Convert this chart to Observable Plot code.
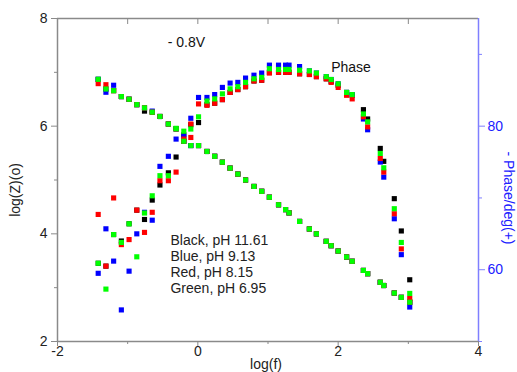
<!DOCTYPE html>
<html>
<head>
<meta charset="utf-8">
<script src="https://cdn.jsdelivr.net/npm/d3@7"></script>
<script src="https://cdn.jsdelivr.net/npm/@observablehq/plot@0.6"></script>
<style>
  html, body { margin: 0; padding: 0; background: #fff; }
  #chart svg { display: block; }
</style>
</head>
<body>
<div id="chart"></div>
<script>
// log(f) of each measured frequency
const logf = [-1.42, -1.31, -1.20, -1.09, -0.98, -0.87, -0.76, -0.65, -0.54, -0.42,
  -0.31, -0.20, -0.10, 0.01, 0.13, 0.24, 0.35, 0.46, 0.57, 0.68,
  0.80, 0.91, 1.02, 1.15, 1.25, 1.30, 1.45, 1.59, 1.69, 1.83,
  1.90, 2.00, 2.12, 2.20, 2.36, 2.42, 2.60, 2.65, 2.80, 2.90, 3.02];

// log|Z| per series
const magGreen = [6.87, 6.69, 6.66, 6.55, 6.50, 6.40, 6.34, 6.26, 6.18, 6.04,
  5.95, 5.72, 5.64, 5.64, 5.53, 5.44, 5.33, 5.22, 5.11, 5.00,
  4.88, 4.79, 4.68, 4.54, 4.45, 4.39, 4.23, 4.09, 4.00, 3.86,
  3.78, 3.68, 3.57, 3.49, 3.32, 3.26, 3.10, 3.04, 2.90, 2.82, 2.73];
const magRed = [6.79, 6.77, 6.66, 6.55, 6.50, 6.40, 6.34, 6.26, 6.18, 6.04,
  5.95, 5.72, 5.79, 5.64, 5.53, 5.44, 5.33, 5.22, 5.11, 5.00,
  4.88, 4.79, 4.68, 4.54, 4.45, 4.39, 4.23, 4.09, 4.00, 3.86,
  3.78, 3.68, 3.57, 3.49, 3.32, 3.26, 3.10, 3.04, 2.90, 2.82, 2.73];
const magBlue = [6.87, 6.63, 6.76, 6.55, 6.50, 6.40, 6.34, 6.28, 6.18, 6.04,
  5.95, 5.72, 5.64, 5.64, 5.53, 5.44, 5.33, 5.22, 5.11, 5.00,
  4.88, 4.79, 4.68, 4.54, 4.45, 4.39, 4.23, 4.09, 4.00, 3.86,
  3.78, 3.68, 3.57, 3.49, 3.32, 3.26, 3.10, 3.04, 2.90, 2.82, 2.73];
const magBlack = [6.87, 6.69, 6.66, 6.55, 6.50, 6.40, 6.28, 6.26, 6.18, 6.04,
  5.95, 5.72, 5.64, 5.64, 5.53, 5.44, 5.33, 5.22, 5.11, 5.00,
  4.88, 4.79, 4.68, 4.54, 4.45, 4.39, 4.23, 4.09, 4.00, 3.86,
  3.78, 3.68, 3.57, 3.49, 3.32, 3.26, 3.10, 3.04, 2.90, 2.82, 2.73];

// - phase (deg) per series
const phGreen = [60.9, 57.3, 64.9, 63.8, 66.4, 61.8, 67.9, 70.3, 73.1, 73.1,
  79.7, 79.3, 79.6, 81.3, 83.5, 83.8, 84.5, 85.2, 85.5, 86.1,
  86.6, 86.8, 88.0, 87.9, 87.9, 87.9, 87.8, 87.7, 87.4, 86.9,
  86.5, 85.9, 84.7, 84.4, 81.7, 80.6, 76.2, 74.2, 68.5, 63.8, 56.7];
const phRed = [67.7, 60.5, 70.0, 63.5, 64.2, 68.3, 65.2, 68.0, 72.4, 72.4,
  73.6, 78.2, 80.3, 83.1, 82.9, 83.2, 83.7, 84.7, 85.1, 85.5,
  86.3, 86.4, 87.4, 87.5, 87.5, 87.5, 87.3, 87.2, 86.9, 86.6,
  86.1, 85.4, 84.3, 83.8, 81.3, 79.9, 75.5, 73.6, 67.8, 62.9, 56.0];
const phBlue = [59.5, 65.7, 61.2, 54.4, 59.8, 65.0, 68.0, 66.9, 74.4, 75.8,
  78.2, 78.6, 81.1, 84.0, 84.0, 84.4, 85.4, 86.0, 86.1, 86.7,
  87.1, 87.4, 88.5, 88.5, 88.5, 88.5, 88.3, 87.7, 87.4, 86.9,
  86.5, 85.9, 84.7, 84.4, 81.0, 79.5, 75.0, 72.9, 67.1, 62.1, 54.8];
const phBlack = [60.9, 60.5, 64.9, 64.0, 66.4, 68.3, 67.0, 69.7, 71.8, 73.5,
  75.7, 78.8, 80.2, 80.5, 83.0, 83.2, 83.7, 84.7, 85.1, 85.5,
  86.3, 86.4, 87.5, 87.5, 87.5, 87.5, 87.3, 87.2, 86.9, 86.6,
  86.2, 85.7, 84.7, 84.3, 82.3, 81.0, 76.9, 75.1, 69.9, 65.4, 58.6];

const seriesNames = ["Black", "Blue", "Red", "Green"];
const seriesColors = ["#000000", "#0000ff", "#ff0000", "#00ff00"];
const legendLines = ["Black, pH 11.61", "Blue, pH 9.13", "Red, pH 8.15", "Green, pH 6.95"];

const xTicks = [-2, 0, 2, 4];
const xMinorTicks = [-1, 1, 3];
const topTicks = [-1, 0, 1, 2, 3];
const yTicks = [2, 4, 6, 8];
const yMinorTicks = [3, 5, 7];
const phaseTicks = [60, 80];
const phaseMinorTicks = [50, 70, 90];
const yDomain = [2, 8];
const phaseDomain = [50, 95];

// map phase (deg) onto the left axis
const toLeft = p => yDomain[0] + (p - phaseDomain[0]) * (yDomain[1] - yDomain[0]) / (phaseDomain[1] - phaseDomain[0]);
const fromLeft = v => phaseDomain[0] + (v - yDomain[0]) * (phaseDomain[1] - phaseDomain[0]) / (yDomain[1] - yDomain[0]);

const mags = [magBlack, magBlue, magRed, magGreen];
const phs = [phBlack, phBlue, phRed, phGreen];
const rows = [];
seriesNames.forEach((s, k) => {
  logf.forEach((f, i) => {
    rows.push({series: s, logf: f, y: phs[k][i], kind: "phase"});
    rows.push({series: s, logf: f, y: mags[k][i], kind: "mag"});
  });
});
rows.forEach(r => { r.yy = r.kind === "phase" ? toLeft(r.y) : r.y; });

const gray = "#8a8a8a";
const blue = "#7f7fff";
const blueText = "#2020ff";

const chart = Plot.plot({
  width: 517,
  height: 372,
  marginLeft: 57,
  marginRight: 39,
  marginTop: 18,
  marginBottom: 31,
  style: {fontFamily: "'Liberation Sans', Arial, sans-serif", fontSize: "14px", background: "#fff", color: "#222"},
  x: {domain: [-2, 4]},
  y: {domain: yDomain},
  color: {type: "ordinal", domain: seriesNames, range: seriesColors},
  marks: [
    // frame
    Plot.ruleX([-2], {stroke: gray, strokeWidth: 1.5}),
    Plot.ruleY([2], {stroke: gray, strokeWidth: 1.5}),
    Plot.ruleY([8], {stroke: gray, strokeWidth: 1.5}),
    Plot.ruleX([4], {stroke: blue, strokeWidth: 1.5}),
    // axes
    Plot.axisY({ticks: yTicks, tickSize: 6, tickPadding: 4, tickFormat: d => String(d), label: null, color: "#222", stroke: gray}),
    Plot.axisY({ticks: yMinorTicks, tickSize: 3, tickFormat: () => "", label: null, stroke: gray}),
    Plot.axisX({ticks: xTicks, tickSize: 5, tickPadding: 0, label: null, tickFormat: d => d < 0 ? "-" + Math.abs(d) : String(d), stroke: gray}),
    Plot.axisX({ticks: xMinorTicks, tickSize: 3, tickFormat: () => "", label: null, stroke: gray}),
    Plot.axisX({anchor: "top", ticks: topTicks, tickSize: -5, tickFormat: () => "", label: null, stroke: gray}),
    Plot.axisY({anchor: "right", ticks: phaseTicks.map(toLeft), tickFormat: v => String(Math.round(fromLeft(v))), tickSize: 6, tickPadding: 3, label: null, color: blueText, stroke: blue}),
    Plot.axisY({anchor: "right", ticks: phaseMinorTicks.map(toLeft), tickSize: 3, tickFormat: () => "", label: null, stroke: blue}),
    // axis titles
    Plot.text(["log(Z)(o)"], {frameAnchor: "left", textAnchor: "middle", dx: -42, dy: 10, rotate: -90, fill: "#222", fontSize: 14}),
    Plot.text(["- Phase/deg(+)"], {frameAnchor: "right", textAnchor: "middle", dx: 30, dy: 18, rotate: 90, fill: blueText, fontSize: 14}),
    Plot.text(["log(f)"], {frameAnchor: "bottom", dy: 27, dx: -2, fill: "#222", fontSize: 14}),
    // data
    Plot.dot(rows, {x: "logf", y: "yy", fill: d => seriesColors[seriesNames.indexOf(d.series)], symbol: "square", r: 2.9}),
    // annotations
    Plot.text(["- 0.8V"], {x: -0.43, y: 7.55, textAnchor: "start", fill: "#111", fontSize: 14}),
    Plot.text(["Phase"], {x: 1.9, y: 7.09, textAnchor: "start", fill: "#111", fontSize: 14}),
    Plot.text(legendLines, {x: -0.39, y: (d, i) => 3.88 - i * 0.3, textAnchor: "start", fill: "#222", fontSize: 14})
  ]
});
document.getElementById("chart").appendChild(chart);
</script>
</body>
</html>
